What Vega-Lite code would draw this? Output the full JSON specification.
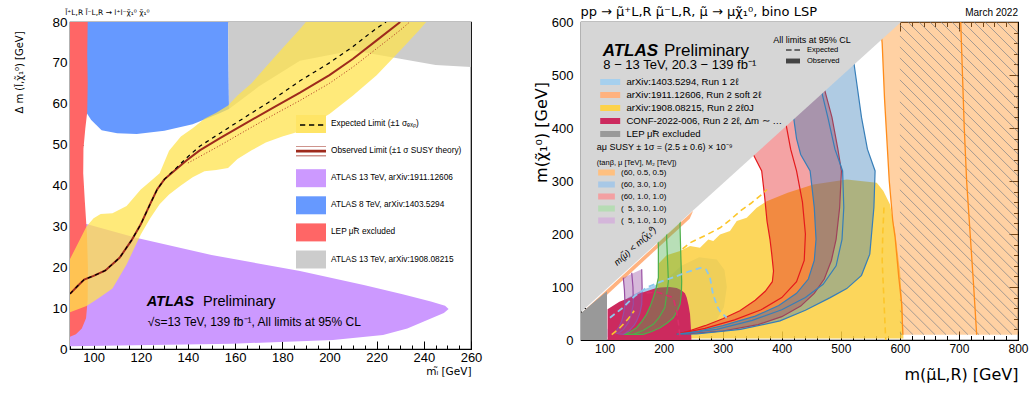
{
"$schema":"https://vega.github.io/schema/vega-lite/v6.json",
"padding":{"left":14,"top":5,"right":2,"bottom":2},
"background":"#ffffff",
"config":{
 "font":"Liberation Sans",
 "view":{"stroke":"#000","strokeWidth":1.2},
 "axis":{"grid":false,"domain":false,"labelFont":"Liberation Sans","titleFont":"DejaVu Sans","labelColor":"#000","titleColor":"#000","titleFontWeight":"normal","tickColor":"#000"},
 "legend":{"labelFont":"Liberation Sans","titleFont":"Liberation Sans","labelColor":"#000","titleColor":"#000"}
},
"datasets":{
 "lp_purple":[{"i":1,"x":90,"y":31},{"i":2,"x":97,"y":30.6},{"i":3,"x":118,"y":27.2},{"i":4,"x":150,"y":23},{"i":5,"x":187.5,"y":19.1},{"i":6,"x":215,"y":15.6},{"i":7,"x":231,"y":13.4},{"i":8,"x":243,"y":11.6},{"i":9,"x":249,"y":10.6},{"i":10,"x":250.5,"y":9.8},{"i":11,"x":248.5,"y":8.8},{"i":12,"x":243.5,"y":7.6},{"i":13,"x":233,"y":5},{"i":14,"x":222.7,"y":3.4},{"i":15,"x":201.5,"y":2.2},{"i":16,"x":159,"y":1.3},{"i":17,"x":90,"y":0.7}],
 "lp_blue":[{"i":1,"x":97,"y":80},{"i":2,"x":97,"y":57.8},{"i":3,"x":99,"y":56},{"i":4,"x":103.4,"y":53.5},{"i":5,"x":110,"y":52.8},{"i":6,"x":118.3,"y":52.6},{"i":7,"x":130,"y":53.4},{"i":8,"x":142,"y":55},{"i":9,"x":152.7,"y":57.5},{"i":10,"x":157.4,"y":58.7},{"i":11,"x":157.2,"y":70},{"i":12,"x":157,"y":80}],
 "lp_gray":[{"i":1,"x":157,"y":80},{"i":2,"x":260,"y":80},{"i":3,"x":260,"y":69},{"i":4,"x":245,"y":69.5},{"i":5,"x":230,"y":71},{"i":6,"x":210,"y":73},{"i":7,"x":187.5,"y":70.5},{"i":8,"x":170,"y":64.2},{"i":9,"x":157.4,"y":58.7},{"i":10,"x":157.2,"y":70}],
 "lp_red":[{"i":1,"x":90,"y":3},{"i":2,"x":92.5,"y":3.6},{"i":3,"x":95,"y":5},{"i":4,"x":96.8,"y":7.5},{"i":5,"x":97.5,"y":12},{"i":6,"x":97.6,"y":20},{"i":7,"x":97.2,"y":28},{"i":8,"x":96.3,"y":36},{"i":9,"x":95.6,"y":43},{"i":10,"x":95.7,"y":49},{"i":11,"x":96.5,"y":54},{"i":12,"x":97.3,"y":58},{"i":13,"x":97.5,"y":65},{"i":14,"x":97.3,"y":72},{"i":15,"x":97.5,"y":80},{"i":16,"x":90,"y":80}],
 "lp_band":[{"x":90,"hi":22,"lo":9},{"x":97,"hi":30,"lo":10.5},{"x":100,"hi":32,"lo":11.6},{"x":103,"hi":33,"lo":12.8},{"x":108,"hi":33.2,"lo":14.8},{"x":114,"hi":35,"lo":20.7},{"x":120,"hi":39,"lo":28},{"x":124,"hi":41,"lo":32},{"x":128,"hi":43,"lo":35.4},{"x":132,"hi":48.5,"lo":37.8},{"x":137,"hi":52,"lo":40},{"x":142,"hi":54,"lo":42},{"x":147,"hi":56.3,"lo":43.5},{"x":152,"hi":57.8,"lo":43.8},{"x":157,"hi":59.6,"lo":44.3},{"x":161,"hi":62,"lo":46.5},{"x":167,"hi":65,"lo":48.6},{"x":173,"hi":69,"lo":50.5},{"x":180,"hi":73.5,"lo":52},{"x":187.5,"hi":78.3,"lo":53.3},{"x":190,"hi":80,"lo":54.2},{"x":200,"hi":80,"lo":57.5},{"x":210,"hi":80,"lo":62},{"x":220,"hi":80,"lo":67},{"x":230,"hi":80,"lo":73},{"x":238,"hi":80,"lo":78},{"x":241,"hi":80,"lo":80}],
 "lp_obs":[{"i":1,"x":90,"y":13.5},{"i":2,"x":93,"y":15.3},{"i":3,"x":96,"y":17},{"i":4,"x":100,"y":17.9},{"i":5,"x":105,"y":19.2},{"i":6,"x":111,"y":22.3},{"i":7,"x":116,"y":26.5},{"i":8,"x":120,"y":30.5},{"i":9,"x":124,"y":35.5},{"i":10,"x":127,"y":39.1},{"i":11,"x":130,"y":41.5},{"i":12,"x":134,"y":43.5},{"i":13,"x":139.5,"y":46.2},{"i":14,"x":145,"y":48.6},{"i":15,"x":153.6,"y":51.6},{"i":16,"x":165,"y":55.4},{"i":17,"x":176,"y":59},{"i":18,"x":187.5,"y":62.7},{"i":19,"x":200,"y":67},{"i":20,"x":210,"y":71},{"i":21,"x":220,"y":75.5},{"i":22,"x":230,"y":80}],
 "lp_exp":[{"i":1,"x":90,"y":13.5},{"i":2,"x":93,"y":15.3},{"i":3,"x":96,"y":17},{"i":4,"x":100,"y":17.9},{"i":5,"x":105,"y":19.2},{"i":6,"x":111,"y":22.3},{"i":7,"x":116,"y":26.5},{"i":8,"x":120,"y":30.5},{"i":9,"x":124,"y":35.5},{"i":10,"x":127,"y":39.1},{"i":11,"x":130,"y":41.5},{"i":12,"x":134,"y":43.7},{"i":13,"x":139.5,"y":46.8},{"i":14,"x":145,"y":49.6},{"i":15,"x":153.6,"y":52.8},{"i":16,"x":165,"y":57},{"i":17,"x":176,"y":61},{"i":18,"x":187.5,"y":65.6},{"i":19,"x":200,"y":70},{"i":20,"x":210,"y":74},{"i":21,"x":220,"y":78.5},{"i":22,"x":224,"y":80}],
 "lp_dot":[{"i":1,"x":140,"y":45.5},{"i":2,"x":153.6,"y":49.8},{"i":3,"x":165,"y":53.6},{"i":4,"x":176,"y":57.2},{"i":5,"x":187.5,"y":60.8},{"i":6,"x":200,"y":65},{"i":7,"x":210,"y":69},{"i":8,"x":220,"y":73.5},{"i":9,"x":230,"y":78},{"i":10,"x":234,"y":80}],
 "lt_title":[{"x":88,"y":81.6,"t":"l\u0303\u207aL,R l\u0303\u207bL,R \u2192 l\u207al\u207b\u03c7\u0303\u2081\u2070 \u03c7\u0303\u2081\u2070"}],
 "lt_atlas":[{"x":122.5,"y":10.5,"t":"ATLAS"}],
 "lt_prelim":[{"x":146.4,"y":10.5,"t":"Preliminary"}],
 "lt_sqrt":[{"x":123,"y":5.6,"t":"\u221as=13 TeV, 139 fb\u207b\u00b9, All limits at 95% CL"}],
 "l_leg":[{"entry":"Expected Limit (\u00b11 \u03c3\u2091\u2093\u209a)","x":-1000,"y":-1000},{"entry":"Observed Limit (\u00b11 \u03c3 SUSY theory)","x":-1000,"y":-1000},{"entry":"ATLAS 13 TeV, arXiv:1911.12606","x":-1000,"y":-1000},{"entry":"ATLAS 8 TeV, arXiv:1403.5294","x":-1000,"y":-1000},{"entry":"LEP \u03bc\u0303R excluded","x":-1000,"y":-1000},{"entry":"ATLAS 13 TeV, arXiv:1908.08215","x":-1000,"y":-1000}],
 "l_legdash":[{"d":"exp","x":-1000,"y":-1000}],
 "rp_lblue":[{"i":1,"x":105,"y":5},{"i":2,"x":105,"y":20},{"i":3,"x":118,"y":55},{"i":4,"x":140,"y":80},{"i":5,"x":165,"y":95},{"i":6,"x":200,"y":110},{"i":7,"x":230,"y":140},{"i":8,"x":260,"y":156},{"i":9,"x":290,"y":152},{"i":10,"x":303,"y":132},{"i":11,"x":307,"y":100},{"i":12,"x":302,"y":62},{"i":13,"x":290,"y":38},{"i":14,"x":265,"y":18},{"i":15,"x":230,"y":7},{"i":16,"x":150,"y":5}],
 "rp_yellow":[{"i":1,"x":185,"y":3},{"i":2,"x":188,"y":60},{"i":3,"x":190,"y":110},{"i":4,"x":192,"y":145},{"i":5,"x":205,"y":160},{"i":6,"x":227.7,"y":167.8},{"i":7,"x":244.6,"y":177.2},{"i":8,"x":261.5,"y":174},{"i":9,"x":275.6,"y":189.8},{"i":10,"x":284,"y":186.6},{"i":11,"x":295.4,"y":199.2},{"i":12,"x":312.3,"y":205.5},{"i":13,"x":323.7,"y":224.3},{"i":14,"x":340.6,"y":230.5},{"i":15,"x":357.5,"y":249.4},{"i":16,"x":374.5,"y":262},{"i":17,"x":410,"y":278},{"i":18,"x":453.4,"y":293.5},{"i":19,"x":510,"y":303},{"i":20,"x":560.8,"y":296.5},{"i":21,"x":572,"y":281},{"i":22,"x":583.3,"y":255.8},{"i":23,"x":591.8,"y":205.5},{"i":24,"x":600.2,"y":130},{"i":25,"x":604.8,"y":54.7},{"i":26,"x":605.8,"y":10.7},{"i":27,"x":606,"y":3}],
 "rp_crimson":[{"i":1,"x":105,"y":0},{"i":2,"x":105,"y":58},{"i":3,"x":109,"y":61},{"i":4,"x":125,"y":72},{"i":5,"x":143,"y":80},{"i":6,"x":160,"y":88},{"i":7,"x":171,"y":92},{"i":8,"x":185,"y":97},{"i":9,"x":194,"y":99},{"i":10,"x":210,"y":100},{"i":11,"x":222,"y":98},{"i":12,"x":230,"y":94},{"i":13,"x":236,"y":88},{"i":14,"x":239,"y":80},{"i":15,"x":242,"y":66},{"i":16,"x":244.6,"y":49},{"i":17,"x":246,"y":25},{"i":18,"x":247,"y":0}],
 "rp_soft":[{"i":1,"x":60,"y":50},{"i":2,"x":250,"y":244},{"i":3,"x":244,"y":229},{"i":4,"x":60,"y":40}],
 "rp_oband":[{"i":1,"x":566,"y":600},{"i":2,"x":570,"y":560},{"i":3,"x":574,"y":455},{"i":4,"x":582,"y":300},{"i":5,"x":588,"y":224},{"i":6,"x":592,"y":193},{"i":7,"x":598,"y":120},{"i":8,"x":603,"y":68},{"i":9,"x":605,"y":10},{"i":10,"x":800,"y":10},{"i":11,"x":800,"y":600}],
 "rp_olines":[{"s":"L","i":1,"x":566,"y":600},{"s":"L","i":2,"x":570,"y":560},{"s":"L","i":3,"x":574,"y":455},{"s":"L","i":4,"x":582,"y":300},{"s":"L","i":5,"x":588,"y":224},{"s":"L","i":6,"x":592,"y":193},{"s":"L","i":7,"x":598,"y":120},{"s":"L","i":8,"x":603,"y":68},{"s":"L","i":9,"x":605,"y":10},{"s":"C","i":1,"x":703,"y":600},{"s":"C","i":2,"x":706,"y":500},{"s":"C","i":3,"x":709,"y":400},{"s":"C","i":4,"x":713,"y":300},{"s":"C","i":5,"x":719,"y":200},{"s":"C","i":6,"x":725,"y":100},{"s":"C","i":7,"x":730,"y":10}],
 "rp_hatch":[{"x":781.4,"y":600,"x2":800,"y2":579.3},{"x":762.7,"y":600,"x2":800,"y2":558.5},{"x":744.1,"y":600,"x2":800,"y2":537.8},{"x":725.5,"y":600,"x2":800,"y2":517.1},{"x":706.9,"y":600,"x2":800,"y2":496.4},{"x":688.2,"y":600,"x2":800,"y2":475.6},{"x":669.6,"y":600,"x2":800,"y2":454.9},{"x":651,"y":600,"x2":800,"y2":434.1},{"x":632.3,"y":600,"x2":800,"y2":413.4},{"x":613.7,"y":600,"x2":800,"y2":392.7},{"x":600,"y":594.5,"x2":800,"y2":371.9},{"x":600,"y":573.7,"x2":800,"y2":350.8},{"x":600,"y":553,"x2":800,"y2":330.1},{"x":600,"y":532.3,"x2":800,"y2":309.7},{"x":600,"y":511.6,"x2":800,"y2":289},{"x":600,"y":490.8,"x2":800,"y2":268.2},{"x":600,"y":470.1,"x2":800,"y2":247.5},{"x":600,"y":449.4,"x2":800,"y2":226.8},{"x":600,"y":428.6,"x2":800,"y2":206},{"x":600,"y":407.9,"x2":800,"y2":185.3},{"x":600,"y":387.2,"x2":800,"y2":164.6},{"x":600,"y":366.5,"x2":800,"y2":143.9},{"x":600,"y":345.7,"x2":800,"y2":123.1},{"x":600,"y":325,"x2":800,"y2":102.4},{"x":600,"y":304.3,"x2":800,"y2":81.6},{"x":600,"y":283.4,"x2":800,"y2":60.8},{"x":600,"y":262.7,"x2":800,"y2":40.1},{"x":600,"y":242,"x2":800,"y2":19.4},{"x":600,"y":221.3,"x2":789.9,"y2":10},{"x":600,"y":200.5,"x2":771.2,"y2":10},{"x":600,"y":179.8,"x2":752.6,"y2":10},{"x":600,"y":159.1,"x2":734,"y2":10},{"x":600,"y":138.3,"x2":715.3,"y2":10},{"x":600,"y":117.6,"x2":696.7,"y2":10},{"x":600,"y":96.9,"x2":678.1,"y2":10},{"x":600,"y":76.2,"x2":659.5,"y2":10},{"x":600,"y":55.4,"x2":640.8,"y2":10},{"x":600,"y":34.7,"x2":622.2,"y2":10},{"x":600,"y":13.9,"x2":603.6,"y2":10}],
 "rp_green":[{"i":1,"x":188,"y":200},{"i":2,"x":191,"y":180},{"i":3,"x":191,"y":150},{"i":4,"x":191,"y":117.5},{"i":5,"x":187,"y":97},{"i":6,"x":182.4,"y":79.8},{"i":7,"x":177,"y":63},{"i":8,"x":171,"y":48.4},{"i":9,"x":163,"y":35},{"i":10,"x":154.3,"y":23.2},{"i":11,"x":143,"y":15},{"i":12,"x":131.6,"y":10.7},{"i":13,"x":150,"y":10.5},{"i":14,"x":165.5,"y":10.7},{"i":15,"x":180,"y":16},{"i":16,"x":193.8,"y":23.2},{"i":17,"x":206,"y":32},{"i":18,"x":216.3,"y":42},{"i":19,"x":223,"y":55},{"i":20,"x":227.7,"y":67.3},{"i":21,"x":230,"y":88},{"i":22,"x":230.5,"y":111},{"i":23,"x":229,"y":160},{"i":24,"x":227.7,"y":215},{"i":25,"x":228,"y":228}],
 "rp_purple":[{"i":1,"x":131.6,"y":117.5},{"i":2,"x":133.5,"y":95},{"i":3,"x":134.5,"y":67.3},{"i":4,"x":132,"y":50},{"i":5,"x":128.9,"y":35.8},{"i":6,"x":124,"y":24},{"i":7,"x":117.6,"y":13.8},{"i":8,"x":124,"y":11.5},{"i":9,"x":131.6,"y":10.7},{"i":10,"x":142,"y":18},{"i":11,"x":150,"y":28},{"i":12,"x":154.3,"y":35.8},{"i":13,"x":159.5,"y":50},{"i":14,"x":162.8,"y":67.3},{"i":15,"x":163.5,"y":100},{"i":16,"x":162.8,"y":133.3}],
 "rp_red":[{"i":1,"x":345,"y":365},{"i":2,"x":355,"y":343},{"i":3,"x":366,"y":319},{"i":4,"x":371,"y":270},{"i":5,"x":375,"y":224},{"i":6,"x":380,"y":190},{"i":7,"x":383,"y":162},{"i":8,"x":386,"y":130},{"i":9,"x":384,"y":110},{"i":10,"x":372,"y":92},{"i":11,"x":355,"y":75},{"i":12,"x":329,"y":55},{"i":13,"x":300,"y":40},{"i":14,"x":270,"y":27},{"i":15,"x":240,"y":16},{"i":16,"x":222,"y":11},{"i":17,"x":240,"y":11.5},{"i":18,"x":300,"y":17},{"i":19,"x":360,"y":29},{"i":20,"x":400,"y":44},{"i":21,"x":432,"y":64},{"i":22,"x":455,"y":88},{"i":23,"x":472,"y":115},{"i":24,"x":484,"y":150},{"i":25,"x":492,"y":190},{"i":26,"x":498,"y":250},{"i":27,"x":501,"y":319},{"i":28,"x":495,"y":360},{"i":29,"x":485,"y":420},{"i":30,"x":473,"y":470},{"i":31,"x":470,"y":490}],
 "rp_blue":[{"i":1,"x":415,"y":440},{"i":2,"x":420,"y":420},{"i":3,"x":425,"y":380},{"i":4,"x":432,"y":350},{"i":5,"x":448,"y":319},{"i":6,"x":455,"y":250},{"i":7,"x":458,"y":190},{"i":8,"x":455,"y":150},{"i":9,"x":445,"y":115},{"i":10,"x":425,"y":88},{"i":11,"x":395,"y":65},{"i":12,"x":355,"y":45},{"i":13,"x":300,"y":27},{"i":14,"x":260,"y":17},{"i":15,"x":222,"y":11},{"i":16,"x":256,"y":11.5},{"i":17,"x":330,"y":20},{"i":18,"x":397,"y":36},{"i":19,"x":440,"y":56},{"i":20,"x":482,"y":80},{"i":21,"x":510,"y":97},{"i":22,"x":535,"y":122},{"i":23,"x":549,"y":162},{"i":24,"x":556,"y":250},{"i":25,"x":558,"y":319},{"i":26,"x":545,"y":360},{"i":27,"x":535,"y":420},{"i":28,"x":525,"y":500},{"i":29,"x":520,"y":540}],
 "rp_centers":[{"amu":"r","i":1,"x":405,"y":420},{"amu":"r","i":2,"x":415,"y":360},{"amu":"r","i":3,"x":425,"y":319},{"amu":"r","i":4,"x":435,"y":260},{"amu":"r","i":5,"x":440,"y":200},{"amu":"r","i":6,"x":438,"y":150},{"amu":"r","i":7,"x":425,"y":110},{"amu":"r","i":8,"x":400,"y":80},{"amu":"r","i":9,"x":365,"y":57},{"amu":"r","i":10,"x":320,"y":38},{"amu":"r","i":11,"x":270,"y":22},{"amu":"r","i":12,"x":222,"y":11},
  {"amu":"b","i":1,"x":465,"y":480},{"amu":"b","i":2,"x":478,"y":420},{"amu":"b","i":3,"x":490,"y":360},{"amu":"b","i":4,"x":503,"y":319},{"amu":"b","i":5,"x":505,"y":250},{"amu":"b","i":6,"x":502,"y":190},{"amu":"b","i":7,"x":492,"y":140},{"amu":"b","i":8,"x":470,"y":105},{"amu":"b","i":9,"x":440,"y":80},{"amu":"b","i":10,"x":400,"y":57},{"amu":"b","i":11,"x":350,"y":37},{"amu":"b","i":12,"x":290,"y":20},{"amu":"b","i":13,"x":222,"y":11},
  {"amu":"g","i":1,"x":205,"y":215},{"amu":"g","i":2,"x":205,"y":193},{"amu":"g","i":3,"x":208,"y":111},{"amu":"g","i":4,"x":202,"y":61},{"amu":"g","i":5,"x":192,"y":42},{"amu":"g","i":6,"x":182.4,"y":29.6},{"amu":"g","i":7,"x":165,"y":18},{"amu":"g","i":8,"x":148.6,"y":10.7},
  {"amu":"p","i":1,"x":145.9,"y":126.9},{"amu":"p","i":2,"x":148,"y":100},{"amu":"p","i":3,"x":148.6,"y":67.3},{"amu":"p","i":4,"x":145,"y":48},{"amu":"p","i":5,"x":140.1,"y":32.6},{"amu":"p","i":6,"x":132,"y":20},{"amu":"p","i":7,"x":123.2,"y":12.6}],
 "rp_ydash":[{"s":"a","i":1,"x":232,"y":172},{"s":"a","i":2,"x":244.6,"y":183.4},{"s":"a","i":3,"x":270,"y":197},{"s":"a","i":4,"x":295.4,"y":211.7},{"s":"a","i":5,"x":312,"y":226},{"s":"a","i":6,"x":329.3,"y":243},{"s":"a","i":7,"x":348,"y":258},{"s":"a","i":8,"x":366,"y":274.6},{"s":"a","i":9,"x":375,"y":284},{"s":"b","i":1,"x":573,"y":250},{"s":"b","i":2,"x":571,"y":200},{"s":"b","i":3,"x":570,"y":150},{"s":"b","i":4,"x":572,"y":100},{"s":"b","i":5,"x":574,"y":50},{"s":"b","i":6,"x":576,"y":0},{"s":"c","i":1,"x":112,"y":10},{"s":"c","i":2,"x":125,"y":22},{"s":"c","i":3,"x":140,"y":40},{"s":"c","i":4,"x":150,"y":55}],
 "rp_bdash":[{"i":1,"x":109,"y":42},{"i":2,"x":131,"y":61},{"i":3,"x":150,"y":82},{"i":4,"x":171,"y":99},{"i":5,"x":195,"y":110},{"i":6,"x":216,"y":118},{"i":7,"x":244.6,"y":130},{"i":8,"x":262,"y":136},{"i":9,"x":272,"y":133},{"i":10,"x":278.5,"y":117.5},{"i":11,"x":283.5,"y":86.8},{"i":12,"x":290,"y":65},{"i":13,"x":295,"y":54.7},{"i":14,"x":306.7,"y":42}],
 "rp_cdash":[{"i":1,"x":171,"y":89},{"i":2,"x":190,"y":90},{"i":3,"x":216,"y":80},{"i":4,"x":222,"y":55},{"i":5,"x":225.5,"y":28},{"i":6,"x":227.7,"y":4}],
 "rp_lep":[{"i":1,"x":60,"y":0},{"i":2,"x":60,"y":51},{"i":3,"x":104,"y":92},{"i":4,"x":104,"y":0}],
 "rp_diag":[{"i":1,"x":60,"y":53},{"i":2,"x":602,"y":600},{"i":3,"x":60,"y":600}],
 "rt_title":[{"x":59,"y":612,"t":"pp \u2192 \u03bc\u0303\u207aL,R \u03bc\u0303\u207bL,R,  \u03bc\u0303 \u2192 \u03bc\u03c7\u0303\u2081\u2070, bino LSP"}],
 "rt_atlas":[{"x":96.7,"y":535.3,"t":"ATLAS"}],
 "rt_prelim":[{"x":200.5,"y":535.3,"t":"Preliminary"}],
 "rt_energy":[{"x":97.8,"y":510.5,"t":"8 \u2212 13 TeV, 20.3 \u2212 139 fb\u207b\u00b9"}],
 "rt_small":[{"x":385.7,"y":560.4,"t":"All limits at 95% CL"},{"x":86.6,"y":358,"t":"a\u03bc SUSY \u00b1 1\u03c3 = (2.5 \u00b1 0.6) \u00d7 10\u207b\u2079"}],
 "rt_tiny":[{"x":86.6,"y":330,"t":"(tan\u03b2, \u03bc [TeV], M\u2082 [TeV])"}],
 "rt_diag":[{"x":151.4,"y":177.2,"t":"m(\u03bc\u0303) < m(\u03c7\u0303\u2081\u2070)"}],
 "rt_march":[{"x":800,"y":612,"t":"March 2022"}],
 "r_legA":[{"ana":"arXiv:1403.5294, Run 1 2\u2113","x":-1000,"y":-1000},{"ana":"arXiv:1911.12606, Run 2 soft 2\u2113","x":-1000,"y":-1000},{"ana":"arXiv:1908.08215, Run 2 2\u21130J","x":-1000,"y":-1000},{"ana":"CONF-2022-006, Run 2 2\u2113, \u0394m \u223c m(W)","x":-1000,"y":-1000},{"ana":"LEP \u03bc\u0303R excluded","x":-1000,"y":-1000}],
 "r_legB":[{"amu":"o","x":-1000,"y":-1000},{"amu":"b","x":-1000,"y":-1000},{"amu":"r","x":-1000,"y":-1000},{"amu":"g","x":-1000,"y":-1000},{"amu":"p","x":-1000,"y":-1000}],
 "r_legC":[{"lim":"Expected","x":-1000,"y":-1000},{"lim":"Observed","x":-1000,"y":-1000}]
},
"hconcat":[
 {
  "width":401,"height":327,
  "resolve":{"axis":{"x":"independent","y":"independent"}},
  "layer":[
   {"data":{"name":"lp_purple"},"mark":{"type":"line","filled":true,"fill":"#cc99ff","strokeWidth":0,"clip":true},
    "encoding":{
     "x":{"field":"x","type":"quantitative","scale":{"domain":[90,260],"nice":false,"zero":false},"axis":{"orient":"bottom","values":[100,120,140,160,180,200,220,240,260],"ticks":false,"labelFontSize":13,"labelPadding":2,"labelFlush":false,"title":"m\u2097\u0303 [GeV]","titleFontSize":10.5,"titleAnchor":"end","titlePadding":2}},
     "y":{"field":"y","type":"quantitative","scale":{"domain":[0,80],"nice":false,"zero":false},"axis":{"orient":"left","values":[0,10,20,30,40,50,60,70,80],"ticks":false,"labelFontSize":13.5,"labelPadding":3,"title":"\u0394 m (l\u0303,\u03c7\u0303\u2081\u2070) [GeV]","titleFontSize":10,"titlePadding":27,"titleY":50}},
     "order":{"field":"i","type":"quantitative"}}},
   {"data":{"name":"lp_blue"},"mark":{"type":"line","filled":true,"fill":"#6699ff","strokeWidth":0,"clip":true},
    "encoding":{
     "x":{"field":"x","type":"quantitative","axis":{"orient":"bottom","values":[100,120,140,160,180,200,220,240,260],"labels":false,"title":null,"tickSize":-8,"tickWidth":1}},
     "y":{"field":"y","type":"quantitative","axis":{"orient":"left","values":[0,10,20,30,40,50,60,70,80],"labels":false,"title":null,"tickSize":-13,"tickWidth":1}},
     "order":{"field":"i","type":"quantitative"}}},
   {"data":{"name":"lp_gray"},"mark":{"type":"line","filled":true,"fill":"#cccccc","strokeWidth":0,"clip":true},
    "encoding":{
     "x":{"field":"x","type":"quantitative","axis":{"orient":"bottom","values":[90,95,100,105,110,115,120,125,130,135,140,145,150,155,160,165,170,175,180,185,190,195,200,205,210,215,220,225,230,235,240,245,250,255,260],"labels":false,"title":null,"tickSize":-4,"tickWidth":1}},
     "y":{"field":"y","type":"quantitative","axis":{"orient":"left","values":[0,2,4,6,8,10,12,14,16,18,20,22,24,26,28,30,32,34,36,38,40,42,44,46,48,50,52,54,56,58,60,62,64,66,68,70,72,74,76,78,80],"labels":false,"title":null,"tickSize":-7,"tickWidth":1}},
     "order":{"field":"i","type":"quantitative"}}},
   {"data":{"name":"lp_red"},"mark":{"type":"line","filled":true,"fill":"#ff6666","strokeWidth":0,"clip":true},
    "encoding":{"x":{"field":"x","type":"quantitative","axis":null},"y":{"field":"y","type":"quantitative","axis":null},"order":{"field":"i","type":"quantitative"}}},
   {"data":{"name":"lp_band"},"mark":{"type":"area","color":"#ffe34d","opacity":0.75,"clip":true},
    "encoding":{"x":{"field":"x","type":"quantitative","axis":null},"y":{"field":"hi","type":"quantitative","axis":null},"y2":{"field":"lo"}}},
   {"data":{"name":"lp_dot"},"mark":{"type":"line","stroke":"#b03020","strokeWidth":1,"strokeDash":[1,2],"clip":true},
    "encoding":{"x":{"field":"x","type":"quantitative","axis":null},"y":{"field":"y","type":"quantitative","axis":null},"order":{"field":"i","type":"quantitative"}}},
   {"data":{"name":"lp_obs"},"mark":{"type":"line","stroke":"#9e2a1c","strokeWidth":2,"clip":true},
    "encoding":{"x":{"field":"x","type":"quantitative","axis":null},"y":{"field":"y","type":"quantitative","axis":null},"order":{"field":"i","type":"quantitative"}}},
   {"data":{"name":"lp_exp"},"mark":{"type":"line","stroke":"#000000","strokeWidth":1.2,"strokeDash":[4,4],"clip":true},
    "encoding":{"x":{"field":"x","type":"quantitative","axis":null},"y":{"field":"y","type":"quantitative","axis":null},"order":{"field":"i","type":"quantitative"}}},
   {"data":{"name":"lt_title"},"mark":{"type":"text","align":"left","baseline":"alphabetic","font":"DejaVu Sans","fontSize":7.5,"color":"#000"},
    "encoding":{"x":{"field":"x","type":"quantitative","axis":null},"y":{"field":"y","type":"quantitative","axis":null},"text":{"field":"t"}}},
   {"data":{"name":"lt_atlas"},"mark":{"type":"text","align":"left","baseline":"alphabetic","fontSize":14.5,"fontWeight":"bold","fontStyle":"italic","color":"#000"},
    "encoding":{"x":{"field":"x","type":"quantitative","axis":null},"y":{"field":"y","type":"quantitative","axis":null},"text":{"field":"t"}}},
   {"data":{"name":"lt_prelim"},"mark":{"type":"text","align":"left","baseline":"alphabetic","fontSize":14.5,"color":"#000"},
    "encoding":{"x":{"field":"x","type":"quantitative","axis":null},"y":{"field":"y","type":"quantitative","axis":null},"text":{"field":"t"}}},
   {"data":{"name":"lt_sqrt"},"mark":{"type":"text","align":"left","baseline":"alphabetic","fontSize":12,"color":"#000"},
    "encoding":{"x":{"field":"x","type":"quantitative","axis":null},"y":{"field":"y","type":"quantitative","axis":null},"text":{"field":"t"}}},
   {"data":{"name":"l_leg"},"mark":{"type":"point","filled":true,"opacity":1,"strokeWidth":0,"clip":true},
    "encoding":{"x":{"field":"x","type":"quantitative","axis":null},"y":{"field":"y","type":"quantitative","axis":null},
     "fill":{"field":"entry","type":"nominal","scale":{"domain":["Expected Limit (\u00b11 \u03c3\u2091\u2093\u209a)","Observed Limit (\u00b11 \u03c3 SUSY theory)","ATLAS 13 TeV, arXiv:1911.12606","ATLAS 8 TeV, arXiv:1403.5294","LEP \u03bc\u0303R excluded","ATLAS 13 TeV, arXiv:1908.08215"],"range":["#ffe566","#9e2a1c","#cc99ff","#6699ff","#ff6666","#cccccc"]},
      "legend":{"orient":"none","legendX":226,"legendY":87,"title":null,"symbolSize":900,"labelFontSize":8.3,"labelOffset":5,"rowPadding":3.1,"padding":0,"symbolStrokeWidth":0}},
     "shape":{"field":"entry","type":"nominal","scale":{"domain":["Expected Limit (\u00b11 \u03c3\u2091\u2093\u209a)","Observed Limit (\u00b11 \u03c3 SUSY theory)","ATLAS 13 TeV, arXiv:1911.12606","ATLAS 8 TeV, arXiv:1403.5294","LEP \u03bc\u0303R excluded","ATLAS 13 TeV, arXiv:1908.08215"],"range":["M-1,-0.6H1V0.6H-1Z","M-1,-0.09H1V0.09H-1Z M-1,-0.34H1V-0.3H-1Z M-1,0.3H1V0.34H-1Z M-1,-0.6 M1,0.6","M-1,-0.6H1V0.6H-1Z","M-1,-0.6H1V0.6H-1Z","M-1,-0.6H1V0.6H-1Z","M-1,-0.6H1V0.6H-1Z"]},
      "legend":{"orient":"none","legendX":226,"legendY":87,"title":null,"symbolSize":900,"labelFontSize":8.3,"labelOffset":5,"rowPadding":3.1,"padding":0,"symbolStrokeWidth":0}}}},
   {"data":{"name":"l_legdash"},"mark":{"type":"point","filled":false,"opacity":1,"strokeWidth":1.5,"clip":true},
    "encoding":{"x":{"field":"x","type":"quantitative","axis":null},"y":{"field":"y","type":"quantitative","axis":null},
     "stroke":{"field":"d","type":"nominal","scale":{"domain":["exp"],"range":["#000000"]},
      "legend":{"orient":"none","legendX":226,"legendY":87,"title":null,"symbolSize":900,"symbolType":"M-0.8,0H-0.45M-0.2,0H0.15M0.4,0H0.75 M-1,-0.6 M1,0.6","symbolStrokeWidth":1.5,"labelFontSize":8.3,"labelOffset":5,"padding":0,"labelExpr":"''"}}}}
  ]
 },
 {
  "width":437,"height":318,
  "resolve":{"axis":{"x":"independent","y":"independent"},"scale":{"fill":"independent"}},
  "layer":[
   {"data":{"name":"rp_lblue"},"mark":{"type":"line","filled":true,"fill":"#a6d0ee","strokeWidth":0,"clip":true},
    "encoding":{
     "x":{"field":"x","type":"quantitative","scale":{"domain":[60,800],"nice":false,"zero":false},"axis":{"orient":"bottom","values":[100,200,300,400,500,600,700,800],"ticks":false,"labelFontSize":12,"labelPadding":3,"labelFlush":false,"title":"m(\u03bc\u0303L,R) [GeV]","titleFontSize":16,"titleAnchor":"end","titlePadding":12}},
     "y":{"field":"y","type":"quantitative","scale":{"domain":[0,600],"nice":false,"zero":false},"axis":{"orient":"left","values":[0,100,200,300,400,500,600],"ticks":false,"labelFontSize":13,"labelPadding":8,"title":"m(\u03c7\u0303\u2081\u2070) [GeV]","titleFontSize":16,"titlePadding":2,"titleY":110}},
     "order":{"field":"i","type":"quantitative"}}},
   {"data":{"name":"rp_yellow"},"mark":{"type":"line","filled":true,"fill":"#fccf3e","fillOpacity":0.85,"strokeWidth":0,"clip":true},
    "encoding":{
     "x":{"field":"x","type":"quantitative","axis":{"orient":"bottom","values":[100,200,300,400,500,600,700,800],"labels":false,"title":null,"tickSize":-9,"tickWidth":1}},
     "y":{"field":"y","type":"quantitative","axis":{"orient":"left","values":[0,100,200,300,400,500,600],"labels":false,"title":null,"tickSize":-9,"tickWidth":1}},
     "order":{"field":"i","type":"quantitative"}}},
   {"data":{"name":"rp_crimson"},"mark":{"type":"line","filled":true,"fill":"#cc2a5e","strokeWidth":0,"clip":true},
    "encoding":{
     "x":{"field":"x","type":"quantitative","axis":{"orient":"bottom","values":[60,80,100,120,140,160,180,200,220,240,260,280,300,320,340,360,380,400,420,440,460,480,500,520,540,560,580,600,620,640,660,680,700,720,740,760,780,800],"labels":false,"title":null,"tickSize":-4.5,"tickWidth":1}},
     "y":{"field":"y","type":"quantitative","axis":{"orient":"left","values":[0,20,40,60,80,100,120,140,160,180,200,220,240,260,280,300,320,340,360,380,400,420,440,460,480,500,520,540,560,580,600],"labels":false,"title":null,"tickSize":-4.5,"tickWidth":1}},
     "order":{"field":"i","type":"quantitative"}}},
   {"data":{"name":"rp_soft"},"mark":{"type":"line","filled":true,"fill":"#ffb27f","strokeWidth":0,"clip":true},
    "encoding":{
     "x":{"field":"x","type":"quantitative","axis":{"orient":"top","values":[100,200,300,400,500,600,700,800],"labels":false,"title":null,"tickSize":-9,"tickWidth":1}},
     "y":{"field":"y","type":"quantitative","axis":{"orient":"right","values":[0,100,200,300,400,500,600],"labels":false,"title":null,"tickSize":-9,"tickWidth":1}},
     "order":{"field":"i","type":"quantitative"}}},
   {"data":{"name":"rp_oband"},"mark":{"type":"line","filled":true,"fill":"#ff9933","fillOpacity":0.45,"strokeWidth":0,"clip":true},
    "encoding":{
     "x":{"field":"x","type":"quantitative","axis":{"orient":"top","values":[60,80,100,120,140,160,180,200,220,240,260,280,300,320,340,360,380,400,420,440,460,480,500,520,540,560,580,600,620,640,660,680,700,720,740,760,780,800],"labels":false,"title":null,"tickSize":-4.5,"tickWidth":1}},
     "y":{"field":"y","type":"quantitative","axis":{"orient":"right","values":[0,20,40,60,80,100,120,140,160,180,200,220,240,260,280,300,320,340,360,380,400,420,440,460,480,500,520,540,560,580,600],"labels":false,"title":null,"tickSize":-4.5,"tickWidth":1}},
     "order":{"field":"i","type":"quantitative"}}},
   {"data":{"name":"rp_hatch"},"mark":{"type":"rule","stroke":"#6a7585","strokeWidth":0.8,"opacity":0.75,"clip":true},
    "encoding":{"x":{"field":"x","type":"quantitative","axis":null},"y":{"field":"y","type":"quantitative","axis":null},"x2":{"field":"x2"},"y2":{"field":"y2"}}},
   {"data":{"name":"rp_olines"},"mark":{"type":"line","stroke":"#ff8c1a","strokeWidth":1.3,"clip":true},
    "encoding":{"x":{"field":"x","type":"quantitative","axis":null},"y":{"field":"y","type":"quantitative","axis":null},"detail":{"field":"s"},"order":{"field":"i","type":"quantitative"}}},
   {"data":{"name":"rp_green"},"mark":{"type":"line","filled":true,"fill":"#4daf4a","fillOpacity":0.4,"stroke":"#4daf4a","strokeWidth":1.2,"clip":true},
    "encoding":{"x":{"field":"x","type":"quantitative","axis":null},"y":{"field":"y","type":"quantitative","axis":null},"order":{"field":"i","type":"quantitative"}}},
   {"data":{"name":"rp_purple"},"mark":{"type":"line","filled":true,"fill":"#984ea3","fillOpacity":0.4,"stroke":"#984ea3","strokeWidth":1.2,"clip":true},
    "encoding":{"x":{"field":"x","type":"quantitative","axis":null},"y":{"field":"y","type":"quantitative","axis":null},"order":{"field":"i","type":"quantitative"}}},
   {"data":{"name":"rp_red"},"mark":{"type":"line","filled":true,"fill":"#e41a1c","fillOpacity":0.4,"stroke":"#e41a1c","strokeWidth":1.2,"clip":true},
    "encoding":{"x":{"field":"x","type":"quantitative","axis":null},"y":{"field":"y","type":"quantitative","axis":null},"order":{"field":"i","type":"quantitative"}}},
   {"data":{"name":"rp_blue"},"mark":{"type":"line","filled":true,"fill":"#377eb8","fillOpacity":0.4,"stroke":"#377eb8","strokeWidth":1.2,"clip":true},
    "encoding":{"x":{"field":"x","type":"quantitative","axis":null},"y":{"field":"y","type":"quantitative","axis":null},"order":{"field":"i","type":"quantitative"}}},
   {"data":{"name":"rp_centers"},"mark":{"type":"line","strokeWidth":1.2,"clip":true},
    "encoding":{"x":{"field":"x","type":"quantitative","axis":null},"y":{"field":"y","type":"quantitative","axis":null},"color":{"field":"amu","type":"nominal","scale":{"domain":["o","b","r","g","p"],"range":["#ff7f00","#377eb8","#e41a1c","#4daf4a","#984ea3"]},"legend":null},"order":{"field":"i","type":"quantitative"}}},
   {"data":{"name":"rp_ydash"},"mark":{"type":"line","stroke":"#fcc62a","strokeWidth":1.6,"strokeDash":[6,4],"clip":true},
    "encoding":{"x":{"field":"x","type":"quantitative","axis":null},"y":{"field":"y","type":"quantitative","axis":null},"detail":{"field":"s"},"order":{"field":"i","type":"quantitative"}}},
   {"data":{"name":"rp_bdash"},"mark":{"type":"line","stroke":"#8cc8ec","strokeWidth":1.8,"strokeDash":[6,4],"clip":true},
    "encoding":{"x":{"field":"x","type":"quantitative","axis":null},"y":{"field":"y","type":"quantitative","axis":null},"order":{"field":"i","type":"quantitative"}}},
   {"data":{"name":"rp_cdash"},"mark":{"type":"line","stroke":"#d8306a","strokeWidth":1.6,"strokeDash":[6,4],"clip":true},
    "encoding":{"x":{"field":"x","type":"quantitative","axis":null},"y":{"field":"y","type":"quantitative","axis":null},"order":{"field":"i","type":"quantitative"}}},
   {"data":{"name":"rp_lep"},"mark":{"type":"line","filled":true,"fill":"#999999","strokeWidth":0,"clip":true},
    "encoding":{"x":{"field":"x","type":"quantitative","axis":null},"y":{"field":"y","type":"quantitative","axis":null},"order":{"field":"i","type":"quantitative"}}},
   {"data":{"name":"rp_diag"},"mark":{"type":"line","filled":true,"fill":"#d6d6d6","strokeWidth":0,"clip":true},
    "encoding":{"x":{"field":"x","type":"quantitative","axis":null},"y":{"field":"y","type":"quantitative","axis":null},"order":{"field":"i","type":"quantitative"}}},
   {"data":{"name":"rt_title"},"mark":{"type":"text","align":"left","baseline":"alphabetic","font":"DejaVu Sans","fontSize":13,"color":"#000"},
    "encoding":{"x":{"field":"x","type":"quantitative","axis":null},"y":{"field":"y","type":"quantitative","axis":null},"text":{"field":"t"}}},
   {"data":{"name":"rt_atlas"},"mark":{"type":"text","align":"left","baseline":"alphabetic","fontSize":17,"fontWeight":"bold","fontStyle":"italic","color":"#000"},
    "encoding":{"x":{"field":"x","type":"quantitative","axis":null},"y":{"field":"y","type":"quantitative","axis":null},"text":{"field":"t"}}},
   {"data":{"name":"rt_prelim"},"mark":{"type":"text","align":"left","baseline":"alphabetic","fontSize":17,"color":"#000"},
    "encoding":{"x":{"field":"x","type":"quantitative","axis":null},"y":{"field":"y","type":"quantitative","axis":null},"text":{"field":"t"}}},
   {"data":{"name":"rt_energy"},"mark":{"type":"text","align":"left","baseline":"alphabetic","fontSize":13,"color":"#000"},
    "encoding":{"x":{"field":"x","type":"quantitative","axis":null},"y":{"field":"y","type":"quantitative","axis":null},"text":{"field":"t"}}},
   {"data":{"name":"rt_small"},"mark":{"type":"text","align":"left","baseline":"alphabetic","fontSize":9,"color":"#000"},
    "encoding":{"x":{"field":"x","type":"quantitative","axis":null},"y":{"field":"y","type":"quantitative","axis":null},"text":{"field":"t"}}},
   {"data":{"name":"rt_tiny"},"mark":{"type":"text","align":"left","baseline":"alphabetic","fontSize":7.5,"color":"#000"},
    "encoding":{"x":{"field":"x","type":"quantitative","axis":null},"y":{"field":"y","type":"quantitative","axis":null},"text":{"field":"t"}}},
   {"data":{"name":"rt_diag"},"mark":{"type":"text","align":"center","baseline":"middle","fontSize":9,"fontStyle":"italic","angle":-42,"color":"#000"},
    "encoding":{"x":{"field":"x","type":"quantitative","axis":null},"y":{"field":"y","type":"quantitative","axis":null},"text":{"field":"t"}}},
   {"data":{"name":"rt_march"},"mark":{"type":"text","align":"right","baseline":"alphabetic","fontSize":10,"color":"#000"},
    "encoding":{"x":{"field":"x","type":"quantitative","axis":null},"y":{"field":"y","type":"quantitative","axis":null},"text":{"field":"t"}}},
   {"data":{"name":"r_legA"},"mark":{"type":"point","filled":true,"opacity":1,"strokeWidth":0,"clip":true},
    "encoding":{"x":{"field":"x","type":"quantitative","axis":null},"y":{"field":"y","type":"quantitative","axis":null},
     "fill":{"field":"ana","type":"nominal","scale":{"domain":["arXiv:1403.5294, Run 1 2\u2113","arXiv:1911.12606, Run 2 soft 2\u2113","arXiv:1908.08215, Run 2 2\u21130J","CONF-2022-006, Run 2 2\u2113, \u0394m \u223c m(W)","LEP \u03bc\u0303R excluded"],"range":["#a6d0ee","#ffb27f","#fdd24a","#cc2a5e","#999999"]},
      "legend":{"orient":"none","legendX":21.2,"legendY":52,"title":null,"symbolType":"M-1.274,-0.382H1.274V0.382H-1.274Z","symbolSize":246,"labelFontSize":9.6,"labelOffset":8.2,"rowPadding":0,"padding":0,"symbolStrokeWidth":0}}}},
   {"data":{"name":"r_legB"},"mark":{"type":"point","filled":true,"opacity":1,"strokeWidth":1,"clip":true},
    "encoding":{"x":{"field":"x","type":"quantitative","axis":null},"y":{"field":"y","type":"quantitative","axis":null},
     "fill":{"field":"amu","type":"nominal","scale":{"domain":["o","b","r","g","p"],"range":["#ffc080","#a8c8e6","#f3a0a2","#b6dcb4","#d4b6da"]},
      "legend":{"orient":"none","legendX":17.5,"legendY":142.5,"title":null,"symbolType":"M-1.22,-0.44H1.22V0.44H-1.22Z","symbolSize":188,"labelFontSize":8,"labelOffset":6.5,"rowPadding":0,"padding":0,"labelExpr":"{'o':'(60, 0.5, 0.5)','b':'(60, 3.0, 1.0)','r':'(60, 1.0, 1.0)','g':'(\u00a0\u00a05, 3.0, 1.0)','p':'(\u00a0\u00a05, 1.0, 1.0)'}[datum.label]"}},
     "stroke":{"field":"amu","type":"nominal","scale":{"domain":["o","b","r","g","p"],"range":["#ff7f00","#377eb8","#e41a1c","#4daf4a","#984ea3"]},
      "legend":{"orient":"none","legendX":17.5,"legendY":142.5,"title":null,"symbolType":"M-1.22,-0.44H1.22V0.44H-1.22Z","symbolSize":188,"labelFontSize":8,"labelOffset":6.5,"rowPadding":0,"padding":0,"labelExpr":"{'o':'(60, 0.5, 0.5)','b':'(60, 3.0, 1.0)','r':'(60, 1.0, 1.0)','g':'(\u00a0\u00a05, 3.0, 1.0)','p':'(\u00a0\u00a05, 1.0, 1.0)'}[datum.label]"}}}},
   {"data":{"name":"r_legC"},"mark":{"type":"point","filled":true,"opacity":1,"fill":"#444444","strokeWidth":0,"clip":true},
    "encoding":{"x":{"field":"x","type":"quantitative","axis":null},"y":{"field":"y","type":"quantitative","axis":null},
     "shape":{"field":"lim","type":"nominal","scale":{"domain":["Expected","Observed"],"range":["M-1,-0.1H-0.2V0.1H-1Z M0.2,-0.1H1V0.1H0.2Z M-1,-0.35 M1,0.35","M-1,-0.35H1V0.35H-1Z"]},
      "legend":{"orient":"none","legendX":205,"legendY":21,"title":null,"symbolSize":196,"labelFontSize":7.5,"labelOffset":7,"rowPadding":-0.5,"padding":0,"symbolStrokeWidth":0,"symbolFillColor":"#444444"}}}}
  ]
 }
],
"spacing":110,
"bounds":"flush",
"resolve":{"scale":{"fill":"independent","shape":"independent","stroke":"independent","color":"independent"},"legend":{"fill":"independent","shape":"independent","stroke":"independent","color":"independent"}}
}
